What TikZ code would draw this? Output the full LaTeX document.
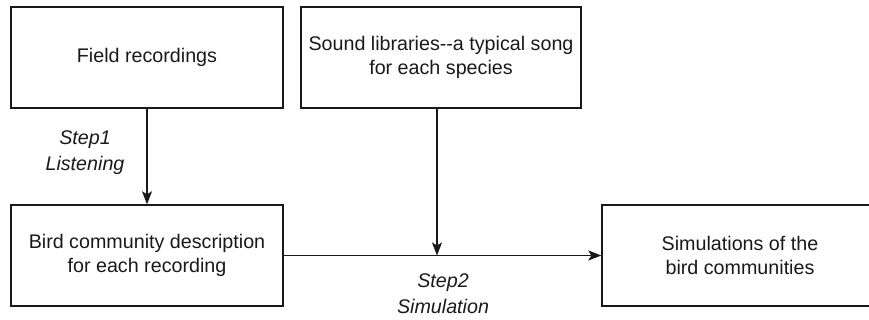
\documentclass[tikz,border=0pt]{standalone}
\usepackage{fontspec}
\setmainfont{Liberation Sans}
\usetikzlibrary{arrows.meta}
\begin{document}
\begin{tikzpicture}[x=1pt,y=-1pt,
  box/.style={draw=black!90,line width=1.4pt,minimum width=#1,minimum height=101pt,inner sep=0pt,align=center,font=\fontsize{19.7}{24}\selectfont,text=black!90},
  box/.default=272pt,
  lbl/.style={align=center,font=\fontsize{19.7}{26}\selectfont\itshape,text=black!90},
  conn/.style={line width=1.4pt,draw=black!90,-{Stealth[length=13pt,width=10pt,inset=3pt]}}]
\useasboundingbox (0,0) rectangle (869,320);
\clip (0,0) rectangle (869,320);
\node[box] (field) at (147,57.5) {Field recordings};
\node[box=280pt] (snd) at (441,57.5) {Sound libraries-{}-a typical song\\for each species};
\node[box] (bird) at (147,255.5) {Bird community description\\for each recording};
\node[box=276pt] (sim) at (740,255.5) {Simulations of the\\bird communities};
\coordinate (j) at (437,255.5);
\draw[conn] (field.south) -- (bird.north);
\draw[conn] (bird.east) -- (sim.west);
\draw[conn] (snd.south -| j) -- (j);
\node[lbl] (s1) at (85,153) {Step1\\Listening};
\node[lbl] (s2) at (443,294) {Step2\\Simulation};
\end{tikzpicture}
\end{document}
